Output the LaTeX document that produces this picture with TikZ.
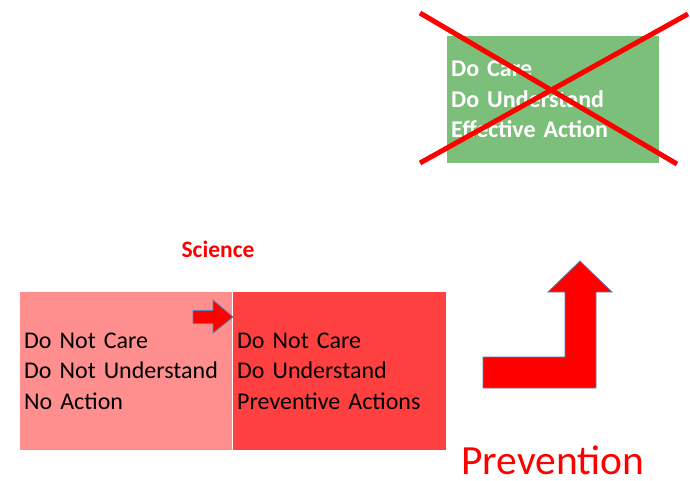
\documentclass[tikz,border=0pt]{standalone}
\usepackage{fontspec}
\setmainfont{Carlito}
\newcommand\narrowspace{\fontdimen2\font=0.16em\relax}
\definecolor{boxgreen}{HTML}{7CBF7B}
\definecolor{boxpink}{HTML}{FF8F8F}
\definecolor{boxred}{HTML}{FF4040}
\definecolor{edgeblue}{HTML}{5A7FB5}
\begin{document}
\begin{tikzpicture}[x=1pt,y=-1pt,
  box/.style={rectangle,anchor=north west,inner xsep=4pt,inner ysep=0pt,align=left,
    font=\fontsize{24}{30.5}\selectfont\narrowspace},
  redarrow/.style={fill=red,draw=edgeblue,line width=0.8pt,line join=miter},
  cross/.style={draw=red,line width=5pt}]
\useasboundingbox (0,0) rectangle (690,480);
% green box
\node[box,fill=boxgreen,text=white,font=\fontsize{24}{30.5}\selectfont\bfseries\narrowspace,
  minimum width=212pt,minimum height=127pt,text width=204pt] (good) at (447,36)
  {Do Care\\Do Understand\\Effective Action};
\coordinate (x1) at (420,13);
\coordinate (x2) at (677,164);
\coordinate (x3) at (420,163);
\coordinate (x4) at (688,14);
\draw[cross] (x1) -- (x2);
\draw[cross] (x3) -- (x4);
% left and right boxes
\node[box,fill=boxpink,minimum width=212pt,minimum height=158pt,text width=204pt] (left) at (20,292)
  {Do Not Care\\Do Not Understand\\No Action};
\node[box,fill=boxred,minimum width=213pt,minimum height=158pt,text width=205pt] (right) at (233,292)
  {Do Not Care\\Do Understand\\Preventive Actions};
% science label
\node[text=red,font=\fontsize{23.5}{28}\selectfont\bfseries] (science) at (218,249) {Science};
% small arrow
\draw[redarrow] (193,310.5) -- (213,310.5) -- (213,300) -- (233,317) -- (213,333) -- (213,323.5) -- (193,323.5) -- cycle;
% big bent arrow
\draw[redarrow] (483,357) -- (565,357) -- (565,292) -- (548,292) -- (580,261) -- (612,292) -- (596,292) -- (596,388) -- (483,388) -- cycle;
% prevention label
\node[text=red,font=\fontsize{41.5}{48}\selectfont,inner sep=0pt,anchor=base] (prev) at (553,474) {Prevention};
\end{tikzpicture}
\end{document}
